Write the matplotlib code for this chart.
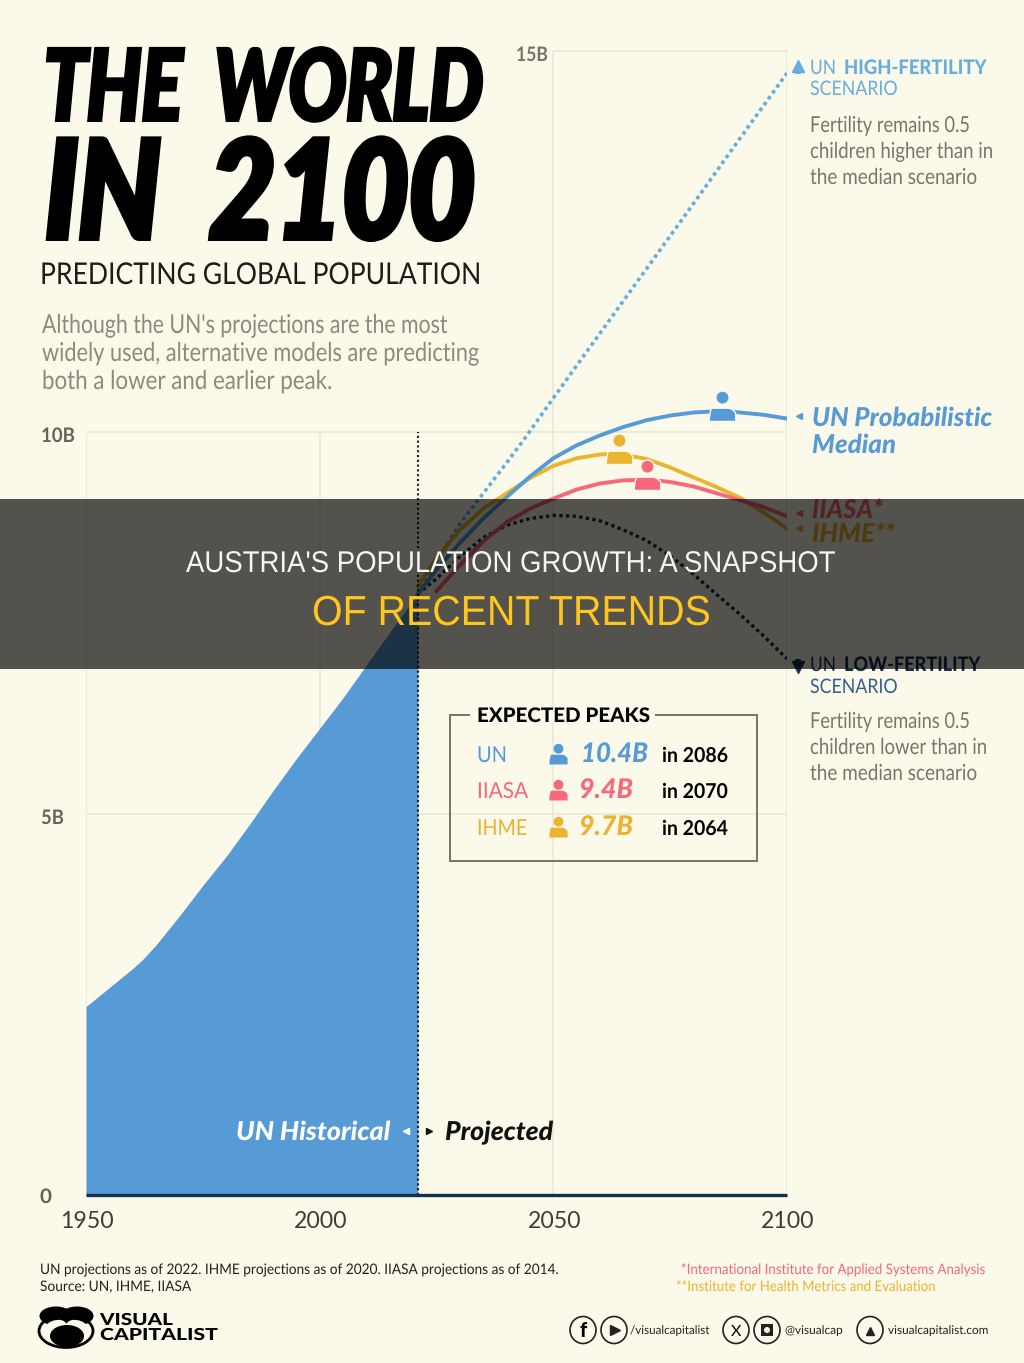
import matplotlib
matplotlib.use('Agg')
import matplotlib.pyplot as plt
from matplotlib.path import Path
from matplotlib.patches import Rectangle, Ellipse, Circle
from matplotlib.patheffects import AbstractPathEffect
from matplotlib.text import Text
from matplotlib.transforms import Affine2D, Bbox

W, H = 1024, 1363
BG = '#FBF9EA'
BLUE = '#579BD6'
RED = '#F9677A'
GOLD = '#EAB42F'
NAVY = '#14304F'
SKY = '#67ADDD'
GREY = '#8C8A7E'
GREY2 = '#78766C'
GRID = '#E9E7D6'

# data
hist_years = [1950, 1955, 1960, 1962, 1965, 1970, 1975, 1980, 1985, 1990, 1995, 2000, 2005, 2010, 2015, 2021]
hist_vals = [2.47, 2.72, 2.97, 3.08, 3.28, 3.66, 4.06, 4.44, 4.86, 5.30, 5.72, 6.12, 6.52, 6.95, 7.38, 7.88]

un_years = [2021, 2025, 2030, 2035, 2040, 2045, 2050, 2055, 2060, 2065, 2070, 2075, 2080, 2086, 2090, 2095, 2100]
un_vals = [7.88, 8.2, 8.55, 8.87, 9.15, 9.42, 9.66, 9.83, 9.96, 10.07, 10.16, 10.22, 10.26, 10.28, 10.26, 10.23, 10.18]

ihme_years = [2021, 2025, 2030, 2035, 2040, 2045, 2050, 2055, 2060, 2064, 2070, 2075, 2080, 2085, 2090, 2095, 2100]
ihme_vals = [7.98, 8.35, 8.72, 9.0, 9.2, 9.4, 9.56, 9.66, 9.71, 9.72, 9.65, 9.54, 9.41, 9.28, 9.14, 8.95, 8.74]

iiasa_years = [2025, 2030, 2035, 2040, 2045, 2050, 2055, 2060, 2065, 2070, 2075, 2080, 2085, 2090, 2095, 2100]
iiasa_vals = [7.92, 8.26, 8.57, 8.82, 9.0, 9.13, 9.25, 9.33, 9.37, 9.38, 9.35, 9.29, 9.2, 9.11, 9.02, 8.9]

high_years = [2021, 2025, 2030, 2035, 2040, 2044, 2050, 2060, 2070, 2080, 2090, 2100]
high_vals = [7.88, 8.3, 8.8, 9.2, 9.6, 9.93, 10.45, 11.3, 12.15, 13.0, 13.86, 14.71]

low_years = [2021, 2025, 2030, 2035, 2040, 2045, 2050, 2055, 2060, 2065, 2070, 2075, 2080, 2085, 2090, 2095, 2100]
low_vals = [7.88, 8.08, 8.37, 8.62, 8.78, 8.87, 8.91, 8.9, 8.84, 8.72, 8.58, 8.38, 8.14, 7.87, 7.61, 7.33, 7.03]

peak_years = [2086, 2070, 2064]
peak_vals = [10.28, 9.38, 9.72]
peak_colors = [BLUE, RED, GOLD]

xtick_vals = [1950, 2000, 2050, 2100]
ytick_labels = ['0', '5B', '10B', '15B']

# person icon, origin sits on the line
person = Path.make_compound_path(
    Path.circle((0, 12.5), 6),
    Path([(-12, -9), (-12, -2), (-10, 3), (-4, 3), (4, 3), (10, 3), (12, -2), (12, -9), (-12, -9)],
         [Path.MOVETO, Path.CURVE3, Path.CURVE3, Path.LINETO, Path.LINETO, Path.CURVE3, Path.CURVE3, Path.LINETO, Path.CLOSEPOLY]),
)


# squeezes text sideways, there is no condensed font installed
class Squeeze(AbstractPathEffect):
    def __init__(self, sx, stroke=0):
        super().__init__()
        self.sx = sx
        self.stroke = stroke

    def draw_path(self, renderer, gc, tpath, affine, rgbFace=None):
        aff = Affine2D().scale(self.sx, 1) + affine
        if self.stroke:
            gc0 = renderer.new_gc()
            gc0.copy_properties(gc)
            gc0.set_linewidth(self.stroke)
            gc0.set_foreground(rgbFace)
            gc0.set_joinstyle('miter')
            renderer.draw_path(gc0, tpath, aff, rgbFace)
            gc0.restore()
        else:
            renderer.draw_path(gc, tpath, aff, rgbFace)


class FitText(Text):
    sx = 1

    def get_window_extent(self, renderer=None, dpi=None):
        bb = Text.get_window_extent(self, renderer, dpi)
        return Bbox.from_extents(bb.x0, bb.y0, bb.x0 + bb.width * self.sx, bb.y1)


plt.rcParams['font.family'] = ['Lato', 'DejaVu Sans']
fig = plt.figure(figsize=(W / 100, H / 100), dpi=100, facecolor=BG)
rend = fig.canvas.get_renderer()

# chart axes, pixel box 86..787 / 51..1195
ax = fig.add_axes([86 / W, 1 - 1195 / H, (787 - 86) / W, (1195 - 51) / H], facecolor='none', zorder=1)
ax.set_xlim(1950, 2100)
ax.set_ylim(0, 15)
for s in ax.spines.values():
    s.set_visible(False)
ax.set_xticks([])
ax.set_yticks([])

# grid
ax.hlines(5, 1950, 2100, color=GRID, lw=1.2, zorder=1)
ax.hlines(10, 1950, 2100, color=GRID, lw=1.2, zorder=1)
ax.hlines(15, 2050, 2100, color=GRID, lw=1.2, zorder=1, clip_on=False)
ax.vlines([1950, 2000], 0, 10, color=GRID, lw=1.2, zorder=1)
ax.vlines([2050, 2100], 0, 15, color=GRID, lw=1.2, zorder=1)

ax.fill_between(hist_years, hist_vals, 0, color=BLUE, lw=0, zorder=2)

ax.plot(high_years, high_vals, color=SKY, lw=2.6, ls=(0, (1, 1)), zorder=3)
ax.plot(low_years, low_vals, color=NAVY, lw=2.4, ls=(0, (1, 1)), zorder=3)
ax.plot(ihme_years, ihme_vals, color=GOLD, lw=2.8, zorder=4)
ax.plot(iiasa_years, iiasa_vals, color=RED, lw=2.8, zorder=4)
ax.plot(un_years, un_vals, color=BLUE, lw=2.8, zorder=5)

for yr, val, col in zip(peak_years, peak_vals, peak_colors):
    ax.plot([yr], [val], marker=person, ms=41 * 0.72, mfc=col, mec=BG, mew=1, ls='none', zorder=6, clip_on=False)

ax.vlines(2021, 0, 10, color='#1a1a1a', lw=1.5, ls=(0, (1, 1.3)), zorder=7)
ax.hlines(0, 1950, 2100, color=NAVY, lw=2.4, zorder=7, clip_on=False)

# page overlay in pixels
pg = fig.add_axes([0, 0, 1, 1], facecolor='none', zorder=2)
pg.set_xlim(0, W)
pg.set_ylim(H, 0)
pg.axis('off')


def label(x, y, s, px, x1=None, color='black', weight='normal', style='normal', ha='left', family=None, z=5, stroke=0):
    t = FitText(x, y, s, fontsize=px * 0.72, color=color, fontweight=weight, fontstyle=style,
                ha=ha, va='baseline', zorder=z, family=family if family else ['Lato', 'DejaVu Sans'])
    pg.add_artist(t)
    if x1 is not None:
        t.sx = (x1 - x) / t.get_window_extent(rend).width
    if x1 is not None or stroke:
        t.set_path_effects([Squeeze(t.sx, stroke)])
    return t


# heading
label(44, 120, 'THE  WORLD', 98, 483, weight='black', style='italic', stroke=2.9)
label(45, 238, 'IN  2100', 136, 475, weight='black', style='italic', stroke=4.3)
label(40, 284, 'PREDICTING GLOBAL POPULATION', 30, 481, color='#1c1c1c')
label(42, 333, "Although the UN's projections are the most", 26, 448, color=GREY)
label(42, 361, 'widely used, alternative models are predicting', 26, 480, color=GREY)
label(42, 389, 'both a lower and earlier peak.', 26, 333, color=GREY)

# axis labels
for yr in xtick_vals:
    px = 86 + (yr - 1950) * (787 - 86) / 150
    label(px + 1, 1228, str(yr), 23, color='#3d3d38', ha='center')
label(40, 1203, ytick_labels[0], 20, 52, color='#66645A', weight='bold')
label(41, 824, ytick_labels[1], 20, 64, color='#66645A', weight='bold')
label(41, 442, ytick_labels[2], 20, 75, color='#66645A', weight='bold')
label(516, 61, ytick_labels[3], 20, 548, color='#76746A', weight='bold')

# right hand labels
label(810, 74, 'UN', 20, 836, color=SKY)
label(844, 74, 'HIGH-FERTILITY', 20, 986, color=SKY, weight='black')
label(810, 95, 'SCENARIO', 20, 898, color=SKY)
label(810, 132, 'Fertility remains 0.5', 22, 970, color=GREY2)
label(810, 158, 'children higher than in', 22, 993, color=GREY2)
label(810, 184, 'the median scenario', 22, 977, color=GREY2)
label(812, 426, 'UN Probabilistic', 26, 992, color=BLUE, weight='black', style='italic')
label(812, 453, 'Median', 26, 896, color=BLUE, weight='black', style='italic')
label(812, 518, 'IIASA*', 26, 883, color=RED, weight='black', style='italic')
label(812, 542, 'IHME**', 26, 895, color=GOLD, weight='black', style='italic')
label(810, 671, 'UN', 20, 836, color=NAVY)
label(844, 671, 'LOW-FERTILITY', 20, 980, color=NAVY, weight='black')
label(810, 693, 'SCENARIO', 20, 898, color='#34608C')
label(810, 728, 'Fertility remains 0.5', 22, 970, color=GREY2)
label(810, 754, 'children lower than in', 22, 987, color=GREY2)
label(810, 780, 'the median scenario', 22, 977, color=GREY2)

pg.plot([799], [416], marker='<', ms=5, color=BLUE, ls='none')
pg.plot([799], [513], marker='<', ms=5, color=RED, ls='none')
pg.plot([799], [528], marker='<', ms=5, color=GOLD, ls='none')
pg.plot([798], [66], marker='^', ms=8, color=SKY, ls='none')
pg.plot([798, 798], [66, 74], color=SKY, lw=4, solid_capstyle='butt')
pg.plot([798], [667], marker='v', ms=8, color=NAVY, ls='none')
pg.plot([798, 798], [659, 667], color=NAVY, lw=4, solid_capstyle='butt')

label(236, 1140, 'UN Historical', 26, 390, color='white', weight='black', style='italic')
label(445, 1140, 'Projected', 26, 553, color='#111111', weight='black', style='italic')
pg.plot([406], [1131], marker='<', ms=5, color='white', ls='none')
pg.plot([429], [1131], marker='>', ms=5, color='#111111', ls='none')

# peaks box
pg.add_patch(Rectangle((450, 715), 307, 146, fill=False, ec='#6B6A5C', lw=1.3, zorder=3))
pg.add_patch(Rectangle((470, 708), 185, 14, fc=BG, ec='none', zorder=4))
label(477, 722, 'EXPECTED PEAKS', 20, 650, weight='black')
rows = [('UN', BLUE, '10.4B', 'in 2086', 762, 507, 581, 648),
        ('IIASA', RED, '9.4B', 'in 2070', 798, 528, 579, 633),
        ('IHME', GOLD, '9.7B', 'in 2064', 835, 527, 579, 633)]
for name, col, peak, when, base, name_end, px, px_end in rows:
    label(477, base, name, 22, name_end, color=col)
    pg.plot([558], [base - 5], marker=person, ms=26 * 0.72, color=col, ls='none', zorder=5)
    label(px, base, peak, 27, px_end, color=col, weight='black', style='italic')
    label(662, base, when, 20.5, 728, weight='bold')

# footnotes
label(40, 1274, 'UN projections as of 2022. IHME projections as of 2020. IIASA projections as of 2014.', 14.5, 561, color='#222222')
label(40, 1291, 'Source: UN, IHME, IIASA', 14.5, 192, color='#222222')
label(681, 1274, '*International Institute for Applied Systems Analysis', 14.5, 987, color=RED)
label(676, 1291, '**Institute for Health Metrics and Evaluation', 14.5, 937, color=GOLD)

# logo
pg.add_patch(Ellipse((66, 1331), 54, 33, fc=BG, ec='black', lw=2, zorder=3))
pg.add_patch(Ellipse((56, 1316), 33, 19, fc='black', ec='none', zorder=4))
pg.add_patch(Ellipse((77, 1316), 33, 19, fc='black', ec='none', zorder=4))
pg.add_patch(Ellipse((55, 1328), 24, 15, fc=BG, ec='none', zorder=4, angle=-20))
pg.add_patch(Ellipse((78, 1328), 24, 15, fc=BG, ec='none', zorder=4, angle=20))
pg.add_patch(Ellipse((67, 1336), 34, 22, fc='black', ec='none', zorder=5))
label(100, 1325, 'VISUAL', 16.5, 173, weight='black')
label(100, 1340, 'CAPITALIST', 16.5, 218, weight='black')

# social icons
for cx in (583, 614, 736, 767, 870):
    pg.add_patch(Ellipse((cx, 1330), 26, 27, fc='none', ec='#222222', lw=1.2, zorder=3))
label(583, 1337, 'f', 20, weight='black', ha='center')
pg.plot([615], [1330], marker='>', ms=7, color='#222222', ls='none')
label(736, 1336, 'X', 16, ha='center')
pg.add_patch(Rectangle((761, 1324), 12, 12, fc='#222222', ec='none', zorder=4))
pg.add_patch(Circle((767, 1330), 3, fc=BG, ec='none', zorder=5))
pg.plot([870], [1331], marker='^', ms=6, color='#222222', ls='none')
label(630, 1334, '/visualcapitalist', 12, 710, color='#222222')
label(785, 1334, '@visualcap', 12, 843, color='#222222')
label(888, 1334, 'visualcapitalist.com', 12, 989, color='#222222')

# headline banner across the middle
pg.add_patch(Rectangle((0, 499), W, 170, fc='black', ec='none', alpha=0.67, zorder=8))
label(186, 572, "AUSTRIA'S POPULATION GROWTH: A SNAPSHOT", 30, 836, color='#F6F5EE',
      family=['Liberation Sans', 'DejaVu Sans'], z=9)
label(312, 625, 'OF RECENT TRENDS', 42, 711, color='#FFC61E',
      family=['Liberation Sans', 'DejaVu Sans'], z=9)

plt.savefig('out.png', dpi=100, facecolor=BG)
